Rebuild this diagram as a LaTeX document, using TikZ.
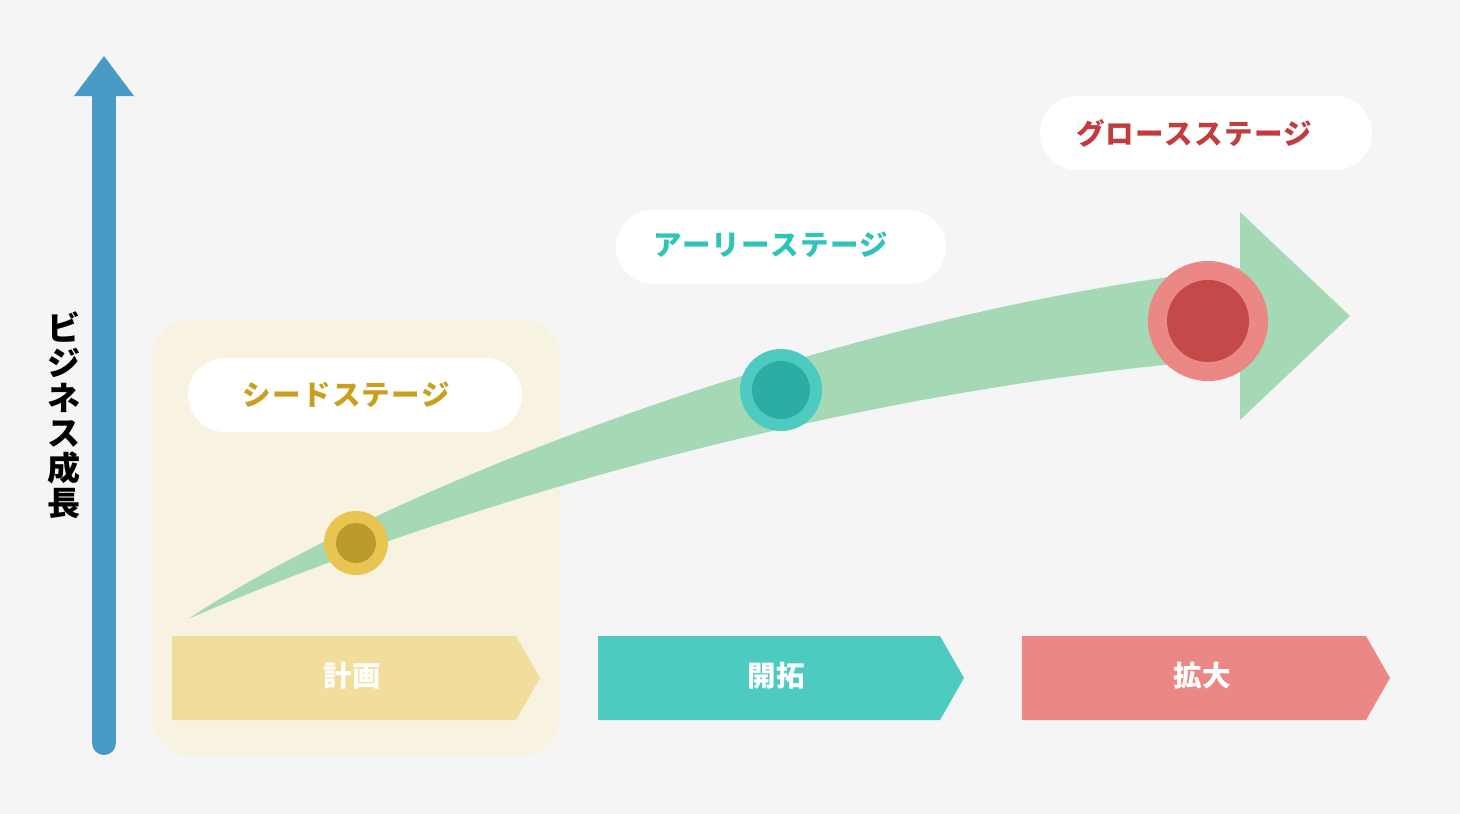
\documentclass[tikz,border=0pt]{standalone}
\usepackage{fontspec}
\newfontfamily\jp{Noto Sans CJK JP}
\newfontfamily\jpls{Noto Sans CJK JP}[LetterSpace=5]
\definecolor{bgc}{HTML}{F5F5F5}
\definecolor{panelc}{HTML}{F8F2E1}
\definecolor{bandc}{HTML}{A5D9B5}
\definecolor{bluec}{HTML}{4A9AC6}
\definecolor{seedtxt}{HTML}{C9A01E}
\definecolor{earlytxt}{HTML}{2EC4B8}
\definecolor{growtxt}{HTML}{C23B3E}
\definecolor{seedout}{HTML}{E8C451}
\definecolor{seedin}{HTML}{BC9B2E}
\definecolor{earlyout}{HTML}{4ECBC1}
\definecolor{earlyin}{HTML}{2BADA3}
\definecolor{growout}{HTML}{EB8886}
\definecolor{growin}{HTML}{C44A4A}
\definecolor{seedbar}{HTML}{F2DE9C}
\begin{document}
\begin{tikzpicture}[x=1pt,y=-1pt,
  pill/.style={fill=white, rounded corners=37pt, minimum height=74pt, inner sep=0pt},
  pilltext/.style={font=\jpls\bfseries\fontsize{28.5}{30}\selectfont, inner sep=0pt},
  bartext/.style={font=\jp\bfseries\fontsize{28.5}{30}\selectfont, text=white, inner sep=0pt},
  dot/.style={circle, inner sep=0pt},
  band/.style={fill=bandc}]
% background
\fill[bgc] (0,0) rectangle (1460,814);
\useasboundingbox (0,0) rectangle (1460,814);
% seed panel
\fill[panelc, rounded corners=38pt] (152,320) rectangle (560,756);
% pills
\node[pill, minimum width=334pt] (seedpill) at (355,395) {};
\node[pill, minimum width=330pt] (earlypill) at (781,247) {};
\node[pill, minimum width=332pt] (growpill) at (1206,133) {};
\node[pilltext, text=seedtxt] (seedlbl) at (346,395) {シードステージ};
\node[pilltext, text=earlytxt] (earlylbl) at (771,245) {アーリーステージ};
\node[pilltext, text=growtxt] (growlbl) at (1194,133) {グロースステージ};
% bottom chevrons
\fill[seedbar] (172,636) -- (516,636) -- (540,678) -- (516,720) -- (172,720) -- cycle;
\fill[earlyout] (598,636) -- (940,636) -- (964,678) -- (940,720) -- (598,720) -- cycle;
\fill[growout] (1022,636) -- (1366,636) -- (1390,678) -- (1366,720) -- (1022,720) -- cycle;
\node[bartext] (plan) at (352,676) {計画};
\node[bartext] (explore) at (776,676) {開拓};
\node[bartext] (expand) at (1202,676) {拡大};
% growth band
\fill[band] (188,619) .. controls (400,480) and (850,310) .. (1240,268)
  -- (1240,358) .. controls (850,388) and (450,505) .. (188,619) -- cycle;
\fill[band] (1240,212) -- (1350,316) -- (1240,420) -- cycle;
% stage dots
\node[dot, fill=seedout, minimum size=64pt] (seedo) at (356,543) {};
\node[dot, fill=seedin, minimum size=40pt] (seedi) at (356,543) {};
\node[dot, fill=earlyout, minimum size=82pt] (earlyo) at (781,390) {};
\node[dot, fill=earlyin, minimum size=58pt] (earlyi) at (781,390) {};
\node[dot, fill=growout, minimum size=120pt] (growo) at (1208,321) {};
\node[dot, fill=growin, minimum size=82pt] (growi) at (1208,321) {};
% vertical axis
\coordinate (axbot) at (104,743);
\coordinate (axtop) at (104,95);
\draw[bluec, line width=24pt, line cap=round] (axbot) -- (axtop);
\fill[bluec] (74,96) -- (104,56) -- (134,96) -- cycle;
\node[font=\jp\bfseries\fontsize{33}{35}\selectfont, align=center, inner sep=0pt] (axlbl) at (64,415)
  {ビ\\ジ\\ネ\\ス\\成\\長};
\end{tikzpicture}
\end{document}
